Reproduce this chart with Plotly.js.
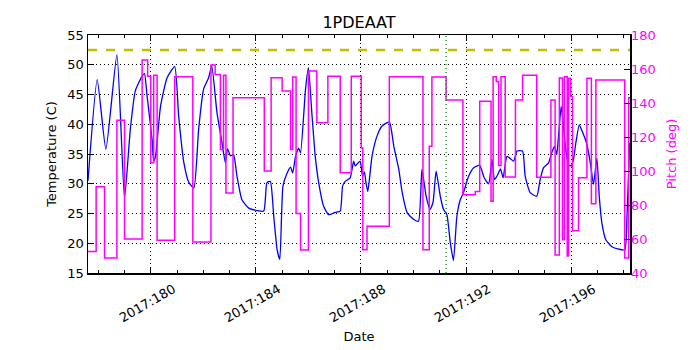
<!DOCTYPE html>
<html>
<head>
<meta charset="utf-8">
<script src="https://cdn.plot.ly/plotly-3.0.1.min.js"></script>
<style>html,body{margin:0;padding:0;background:#fff;}#chart{width:700px;height:350px;}</style>
</head>
<body>
<div id="chart"></div>
<script>
// Temperature (day-of-year, deg C)
const tempDays = [177.61,177.96,178.29,178.71,179.00,179.22,179.41,179.67,179.76,179.86,180.05,180.11,180.18,180.37,180.62,180.91,181.06,181.26,181.45,181.64,
181.82,182.01,182.20,182.32,182.52,182.71,182.84,182.92,183.03,183.15,183.28,183.47,183.73,184.04,184.30,184.42,184.55,184.68,184.81,184.91,
185.03,185.19,185.32,185.40,185.51,185.63,185.70,185.89,186.00,186.13,186.26,186.39,186.58,186.77,187.02,187.21,187.30,187.40,187.59,187.72,
187.78,187.89,187.97,188.06,188.13,188.19,188.26,188.42,188.61,188.80,189.08,189.25,189.44,189.57,189.76,190.01,190.19,190.32,190.48,190.63,
190.74,190.86,191.02,191.14,191.27,191.40,191.52,191.65,191.78,191.90,192.10,192.29,192.52,192.69,192.86,192.99,193.08,193.18,193.31,193.41,
193.56,193.81,193.94,194.15,194.25,194.44,194.69,194.82,194.95,195.14,195.26,195.37,195.45,195.52,195.62,195.71,195.78,195.90,196.01,196.09,
196.18,196.31,196.44,196.60,196.73,196.85,196.98,197.07,197.17,197.32,197.55,197.81,198.04,198.13,198.23];
const tempValues = [30.5,47.5,35.8,51.7,27.6,39.1,45.6,48.1,48.5,44.7,37.4,33.8,34.6,43.0,47.8,49.7,41.4,33.5,30.2,29.3,
39.1,45.9,47.8,49.8,41.9,36.9,33.5,35.9,34.7,34.9,31.3,27.3,25.9,25.5,25.4,30.2,30.4,24.5,18.9,17.3,
29.6,31.8,32.8,31.8,34.6,36.0,35.2,45.9,49.5,41.9,34.6,30.2,26.2,24.8,25.2,25.4,29.6,30.4,31.0,33.8,
33.0,33.5,33.8,31.3,32.0,30.2,28.7,34.6,38.0,39.7,40.4,36.3,32.4,28.5,25.1,24.0,23.7,32.4,27.9,25.7,
26.8,32.1,27.9,25.7,24.8,20.1,17.1,24.5,27.3,28.5,31.3,32.7,33.1,31.0,30.0,34.1,30.7,31.3,32.5,31.0,
34.6,33.8,35.5,35.5,31.3,28.5,27.9,30.7,32.7,33.5,35.2,36.3,34.9,38.0,43.0,39.7,36.3,33.2,33.0,34.1,
36.9,39.9,38.6,36.6,33.5,29.9,34.3,27.9,23.4,20.6,19.4,19.0,18.9,25.1,36.9];

// Pitch (day-of-year, deg) - step values
const pitchDays = [177.61,177.92,178.24,178.71,179.00,179.67,179.88,180.00,180.11,180.24,180.91,181.60,182.29,182.45,182.65,182.77,182.86,183.13,184.32,184.58,
185.00,185.32,185.40,185.53,185.70,186.00,186.32,186.74,187.21,187.63,188.01,188.07,188.23,189.08,190.36,190.60,190.70,191.24,191.88,192.35,
192.52,192.95,193.03,193.15,193.24,193.33,193.49,193.88,194.15,194.69,195.23,195.39,195.55,195.67,195.74,195.85,195.90,195.98,196.05,196.28,
196.60,196.77,196.94,198.04,198.19,198.25];
const pitchValues = [52.7,90.7,48.8,129.9,60.0,165.3,155.8,104.8,156.3,59.2,155.5,58.2,162.3,156.8,112.6,156.3,87.1,143.1,100.0,154.9,
147.0,112.6,155.3,75.0,53.5,158.8,128.4,155.8,98.9,155.8,113.6,53.7,67.5,155.5,53.7,114.6,155.3,141.7,86.1,87.9,
141.1,82.2,155.5,152.6,103.2,155.5,96.5,141.7,156.3,96.3,141.7,50.6,154.7,59.6,155.5,50.0,154.5,144.0,64.9,96.0,
154.5,80.8,153.6,48.8,143.1,143.1];

const tickDays = [180,184,188,192,196];
const tickLabels = ['2017:180','2017:184','2017:188','2017:192','2017:196'];
const limitTemp = 52.5;
const markerDay = 191.24;
const xRange = [177.61, 198.24];

const traces = [
  {x: tempDays, y: tempValues, type:'scatter', mode:'lines', line:{color:'#0000ff', width:1.3, shape:'spline', smoothing:0.5}, yaxis:'y', hoverinfo:'skip'},
  {x: pitchDays, y: pitchValues, type:'scatter', mode:'lines', line:{color:'#ff00ff', width:1.5, shape:'hv'}, yaxis:'y2', hoverinfo:'skip'}
];

// rotated, centred tick labels (matplotlib style)
const tickAnnotations = tickDays.map((d, i) => ({
  x: d, xref:'x', y: 0, yref:'paper', text: tickLabels[i], showarrow:false,
  textangle:-30, xanchor:'center', yanchor:'middle', xshift:-4, yshift:-30,
  font:{family:'DejaVu Sans, sans-serif', size:13, color:'#000'}
}));

const font = {family:'DejaVu Sans, sans-serif', size:13, color:'#000'};
const layout = {
  width:700, height:350,
  margin:{l:88, r:70, t:35, b:77},
  paper_bgcolor:'#fff', plot_bgcolor:'#fff',
  showlegend:false,
  font: font,
  title:{text:'1PDEAAT', font:{family:'DejaVu Sans, sans-serif', size:16, color:'#000'}, x:0.5, xanchor:'center', xref:'paper', yref:'container', y:0.937, yanchor:'middle'},
  xaxis:{
    range:xRange, tickvals:tickDays, ticktext:tickLabels, showticklabels:false,
    ticks:'inside', ticklen:6, tickcolor:'#000', tickwidth:1,
    minor:{dtick:1, tick0:180, ticks:'inside', ticklen:3, tickcolor:'#000', showgrid:false},
    showline:true, linecolor:'#000', linewidth:1.5, mirror:'ticks',
    showgrid:true, gridcolor:'#000', griddash:'1px,3px', gridwidth:1,
    zeroline:false,
    title:{text:'Date', font:{size:13}, standoff:58}
  },
  yaxis:{
    range:[15,55], dtick:5, tick0:15,
    ticks:'inside', ticklen:6, tickcolor:'#000',
    showline:true, linecolor:'#000', linewidth:1.5, mirror:true,
    showgrid:true, gridcolor:'#000', griddash:'1px,3px', gridwidth:1,
    zeroline:false, tickfont:{size:13},
    title:{text:'Temperature (C)', font:{size:13}, standoff:8}
  },
  yaxis2:{
    range:[40,180], dtick:20, tick0:40, overlaying:'y', side:'right',
    ticks:'inside', ticklen:6, tickcolor:'#000',
    showgrid:false, zeroline:false, showline:false,
    tickfont:{size:13, color:'#ff00ff'},
    title:{text:'Pitch (deg)', font:{size:13, color:'#ff00ff'}, standoff:12}
  },
  annotations: tickAnnotations,
  shapes:[
    {type:'line', xref:'paper', x0:0, x1:1, yref:'y', y0:limitTemp, y1:limitTemp, line:{color:'#bfbf00', width:2.5, dash:'dash'}},
    {type:'line', xref:'x', x0:markerDay, x1:markerDay, yref:'paper', y0:0, y1:1, line:{color:'#008000', width:1.2, dash:'1px,3px'}}
  ]
};
Plotly.newPlot('chart', traces, layout, {staticPlot:true, displayModeBar:false});
</script>
</body>
</html>
